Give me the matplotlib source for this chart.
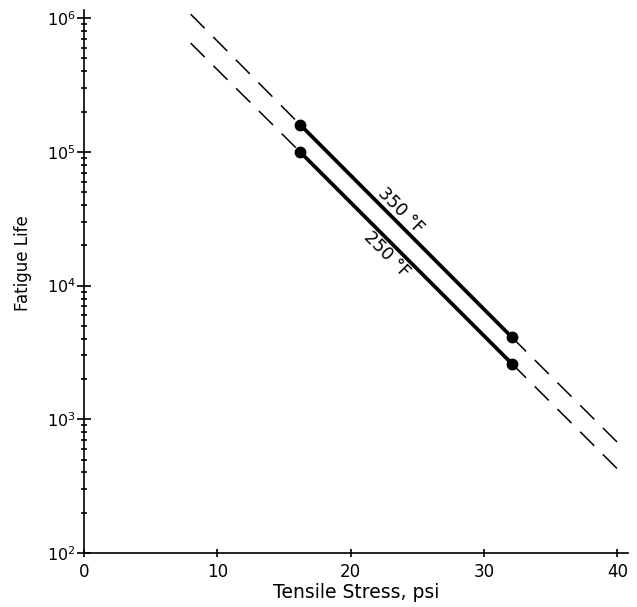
import matplotlib
matplotlib.use("Agg")
import matplotlib.pyplot as plt
from matplotlib.ticker import LogLocator, NullFormatter

stress_pts = [16.2, 32.1]
life_350 = [1.6e5, 4.1e3]
life_250 = [1.0e5, 2.6e3]

# dashed extrapolation, left and right parts
ext_left_x = [8.0, 16.2]
ext_left_350 = [1.07e6, 1.6e5]
ext_left_250 = [6.5e5, 1.0e5]
ext_right_x = [32.1, 40.5]
ext_right_350 = [4.1e3, 600]
ext_right_250 = [2.6e3, 380]

xticks = [0, 10, 20, 30, 40]
labels = ["350 °F", "250 °F"]
label_x = [23.2, 23.3]

fig = plt.figure(figsize=(6.37, 6.07), dpi=100)
ax = fig.add_axes([84 / 637, 54 / 607, 544 / 637, 543 / 607])

dash = dict(color="black", lw=1.1, dashes=(13, 8), clip_on=False)
ax.plot(ext_left_x, ext_left_350, **dash)
ax.plot(ext_left_x, ext_left_250, **dash)
ax.plot(ext_right_x, ext_right_350, **dash)
ax.plot(ext_right_x, ext_right_250, **dash)

ax.plot(stress_pts, life_350, color="black", lw=2.7, marker="o", ms=7.5,
        solid_capstyle="round")
ax.plot(stress_pts, life_250, color="black", lw=2.7, marker="o", ms=7.5,
        solid_capstyle="round")

ax.set_yscale("log")
ax.set_xlim(0, 40.8)
ax.set_ylim(1e2, 1.15e6)

# labels along the lines (slope about -0.1 decade per psi)
ax.annotate(labels[0],
            xy=(label_x[0], life_350[0] * 10 ** (-0.1 * (label_x[0] - stress_pts[0]))),
            xytext=(5.5, 5.5), textcoords="offset points", rotation=-45,
            rotation_mode="anchor", ha="center", va="center", fontsize=12.5)
ax.annotate(labels[1],
            xy=(label_x[1], life_250[0] * 10 ** (-0.1 * (label_x[1] - stress_pts[0]))),
            xytext=(-6, -6), textcoords="offset points", rotation=-45,
            rotation_mode="anchor", ha="center", va="center", fontsize=12.5)

ax.spines["top"].set_visible(False)
ax.spines["right"].set_visible(False)
ax.spines["left"].set_linewidth(1.2)
ax.spines["bottom"].set_linewidth(1.2)

ax.set_xticks(xticks)
ax.yaxis.set_major_locator(LogLocator(base=10, numticks=10))
ax.yaxis.set_minor_locator(LogLocator(base=10, subs=range(2, 10), numticks=20))
ax.yaxis.set_minor_formatter(NullFormatter())
ax.tick_params(axis="y", which="major", direction="inout", length=10,
               width=1.2, labelsize=11.5, pad=1)
ax.tick_params(axis="y", which="minor", direction="inout", length=5,
               width=1.2)
ax.tick_params(axis="x", which="major", direction="inout", length=6,
               width=1.2, labelsize=12, pad=4)

ax.set_xlabel("Tensile Stress, psi", fontsize=13.5, labelpad=2)
ax.set_ylabel("Fatigue Life", fontsize=12)
ax.yaxis.set_label_coords(-0.095, 0.534)

fig.savefig("out.png", dpi=100)
